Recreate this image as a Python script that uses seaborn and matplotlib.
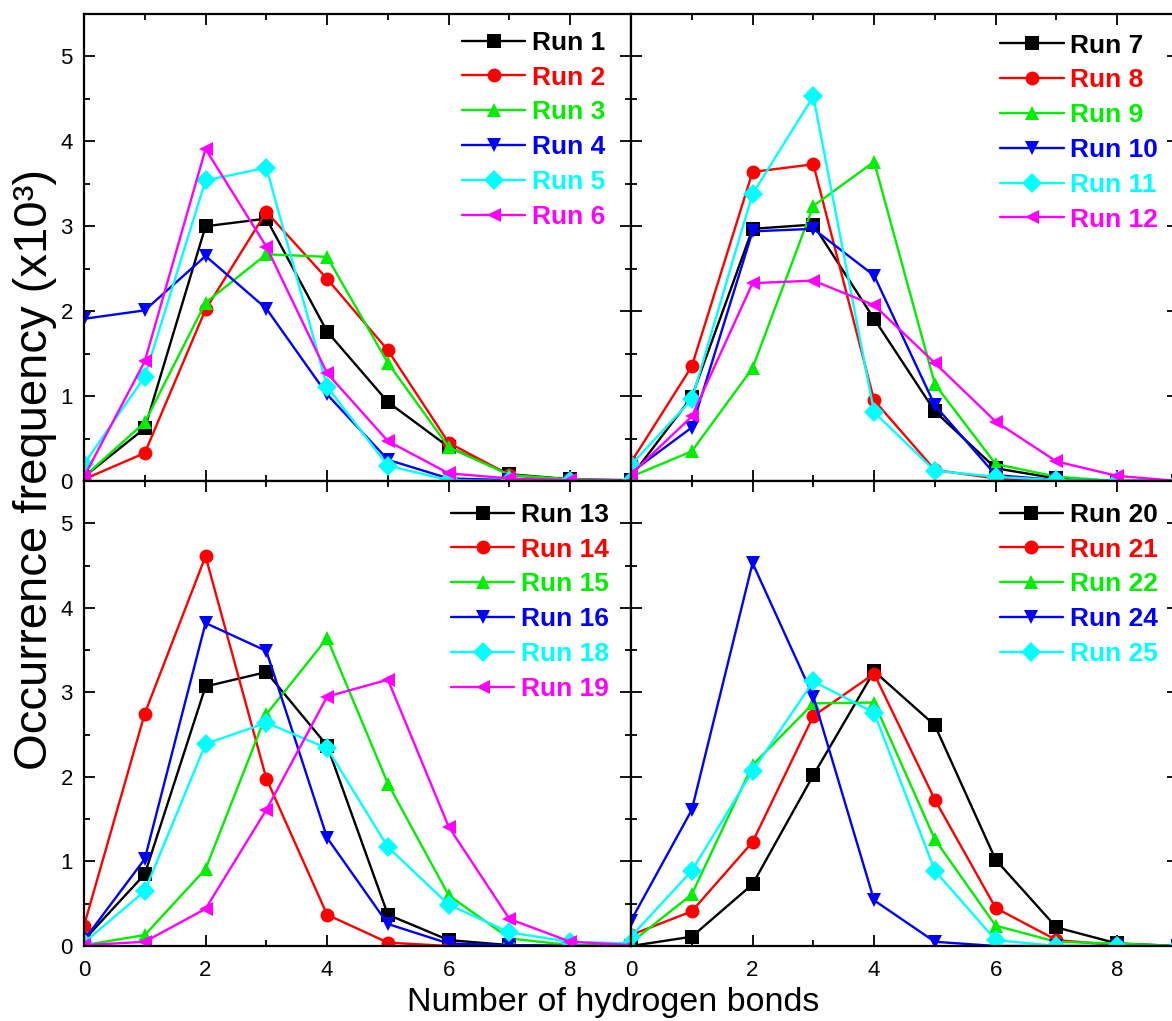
import matplotlib
matplotlib.use("Agg")
import matplotlib.pyplot as plt
import pandas as pd
import seaborn as sns
from matplotlib.ticker import MultipleLocator

sns.set_theme(style="ticks")
plt.rcParams['font.family'] = ['Liberation Sans', 'DejaVu Sans']

# number of hydrogen bonds (x axis)
hbonds = [0, 1, 2, 3, 4, 5, 6, 7, 8, 9]

# occurrence frequency (x10^3), one list per run
run1 = [0.05, 0.62, 3.00, 3.09, 1.76, 0.93, 0.40, 0.08, 0.02, 0.01]
run2 = [0.02, 0.33, 2.02, 3.17, 2.38, 1.54, 0.45, 0.07, 0.01, 0.00]
run3 = [0.05, 0.69, 2.10, 2.67, 2.64, 1.39, 0.40, 0.07, 0.02, 0.00]
run4 = [1.91, 2.01, 2.65, 2.03, 1.02, 0.25, 0.03, 0.01, 0.00, 0.00]
run5 = [0.20, 1.23, 3.54, 3.69, 1.11, 0.18, 0.01, 0.00, 0.00, 0.00]
run6 = [0.05, 1.41, 3.91, 2.76, 1.27, 0.47, 0.09, 0.03, 0.01, 0.00]

run7 = [0.05, 0.99, 2.97, 3.02, 1.91, 0.82, 0.15, 0.03, 0.00, 0.00]
run8 = [0.22, 1.35, 3.64, 3.73, 0.95, 0.13, 0.03, 0.01, 0.00, 0.00]
run9 = [0.05, 0.35, 1.33, 3.24, 3.76, 1.14, 0.20, 0.05, 0.00, 0.00]
run10 = [0.10, 0.63, 2.94, 2.97, 2.42, 0.89, 0.07, 0.01, 0.00, 0.00]
run11 = [0.19, 0.96, 3.38, 4.53, 0.81, 0.12, 0.05, 0.01, 0.00, 0.00]
run12 = [0.08, 0.76, 2.33, 2.36, 2.07, 1.39, 0.70, 0.23, 0.06, 0.00]

run13 = [0.07, 0.85, 3.07, 3.24, 2.37, 0.37, 0.07, 0.01, 0.00, 0.00]
run14 = [0.24, 2.75, 4.61, 1.98, 0.37, 0.04, 0.00, 0.00, 0.00, 0.00]
run15 = [0.01, 0.13, 0.91, 2.74, 3.64, 1.92, 0.60, 0.09, 0.01, 0.00]
run16 = [0.07, 1.03, 3.82, 3.49, 1.28, 0.26, 0.03, 0.01, 0.00, 0.00]
run18 = [0.04, 0.65, 2.39, 2.64, 2.34, 1.17, 0.49, 0.16, 0.05, 0.03]
run19 = [0.01, 0.05, 0.44, 1.61, 2.95, 3.15, 1.41, 0.32, 0.05, 0.01]

run20 = [0.00, 0.11, 0.73, 2.02, 3.25, 2.61, 1.02, 0.22, 0.03, 0.00]
run21 = [0.13, 0.41, 1.23, 2.72, 3.22, 1.73, 0.45, 0.07, 0.01, 0.00]
run22 = [0.04, 0.61, 2.14, 2.87, 2.88, 1.26, 0.24, 0.05, 0.03, 0.00]
run24 = [0.30, 1.61, 4.53, 2.95, 0.54, 0.05, 0.00, 0.00, 0.00, 0.00]
run25 = [0.11, 0.89, 2.07, 3.13, 2.76, 0.89, 0.07, 0.00, 0.00, 0.00]

panels = [
    (["Run 1", "Run 2", "Run 3", "Run 4", "Run 5", "Run 6"],
     [run1, run2, run3, run4, run5, run6]),
    (["Run 7", "Run 8", "Run 9", "Run 10", "Run 11", "Run 12"],
     [run7, run8, run9, run10, run11, run12]),
    (["Run 13", "Run 14", "Run 15", "Run 16", "Run 18", "Run 19"],
     [run13, run14, run15, run16, run18, run19]),
    (["Run 20", "Run 21", "Run 22", "Run 24", "Run 25"],
     [run20, run21, run22, run24, run25]),
]

colors = ["black", "#FF0000", "#00EE00", "#0000FF", "#00FFFF", "#FF00FF"]
markers = ["s", "o", "^", "v", "D", "<"]

W, H = 1172, 1021
fig = plt.figure(figsize=(W / 100, H / 100), dpi=100)

left_px, mid_px, pw = 84, 631, 547
top_px, midy_px, bot_px = 14, 481, 946
rects = [
    (left_px, top_px, midy_px),
    (mid_px, top_px, midy_px),
    (left_px, midy_px, bot_px),
    (mid_px, midy_px, bot_px),
]
legend_x = [0.691, 0.675, 0.671, 0.674]
legend_top = [0.964, 0.958, 0.953, 0.953]
legend_gap = 0.41

for i, ((labels, series), (x0, y0, y1)) in enumerate(zip(panels, rects)):
    ax = fig.add_axes([x0 / W, 1 - y1 / H, pw / W, (y1 - y0) / H])
    rows = []
    for lab, vals in zip(labels, series):
        for n, v in zip(hbonds, vals):
            rows.append({"n": n, "freq": v, "run": lab})
    df = pd.DataFrame(rows)
    pal = {lab: colors[k] for k, lab in enumerate(labels)}
    mk = {lab: markers[k] for k, lab in enumerate(labels)}
    sns.lineplot(data=df, x="n", y="freq", hue="run", style="run",
                 hue_order=labels, style_order=labels,
                 palette=pal, markers=mk, dashes=False, sort=False,
                 lw=1.7, markersize=10, markeredgewidth=0,
                 legend="full", ax=ax)

    ax.set_xlim(0, 9)
    ax.set_ylim(0, 5.5)
    ax.xaxis.set_major_locator(MultipleLocator(2))
    ax.xaxis.set_minor_locator(MultipleLocator(1))
    ax.yaxis.set_major_locator(MultipleLocator(1))
    ax.yaxis.set_minor_locator(MultipleLocator(0.5))
    ax.tick_params(which="both", direction="in", top=True, right=True,
                   width=1.3, color="black", labelsize=16, labelcolor="black")
    ax.tick_params(which="major", length=8)
    ax.tick_params(axis="x", which="major", pad=10)
    ax.tick_params(axis="y", which="major", pad=8)
    ax.tick_params(which="minor", length=4)
    ax.set_xlabel("")
    ax.set_ylabel("")
    if i < 2:
        ax.tick_params(labelbottom=False)
    if i % 2 == 1:
        ax.tick_params(labelleft=False)
    for sp in ax.spines.values():
        sp.set_linewidth(1.6)
        sp.set_color("black")

    handles, labs = ax.get_legend_handles_labels()
    for h in handles:
        h.set_markeredgewidth(0)
        h.set_linewidth(1.7)
    leg = ax.legend(handles, labs, loc="upper left",
                    bbox_to_anchor=(legend_x[i], legend_top[i]), frameon=False,
                    prop={"weight": "bold", "size": 19},
                    handlelength=2.4, handletextpad=0.25,
                    labelspacing=legend_gap, borderaxespad=0, borderpad=0)
    for t, c in zip(leg.get_texts(), colors):
        t.set_color(c)

fig.text(0.523, 1 - 1011 / H, "Number of hydrogen bonds", ha="center",
         va="baseline", size=24.5, color="black")
fig.text(0.030, 0.540, "Occurrence frequency (x10³)", ha="center", va="center",
         rotation=90, size=34, color="black")

fig.savefig("out.png", dpi=100)
